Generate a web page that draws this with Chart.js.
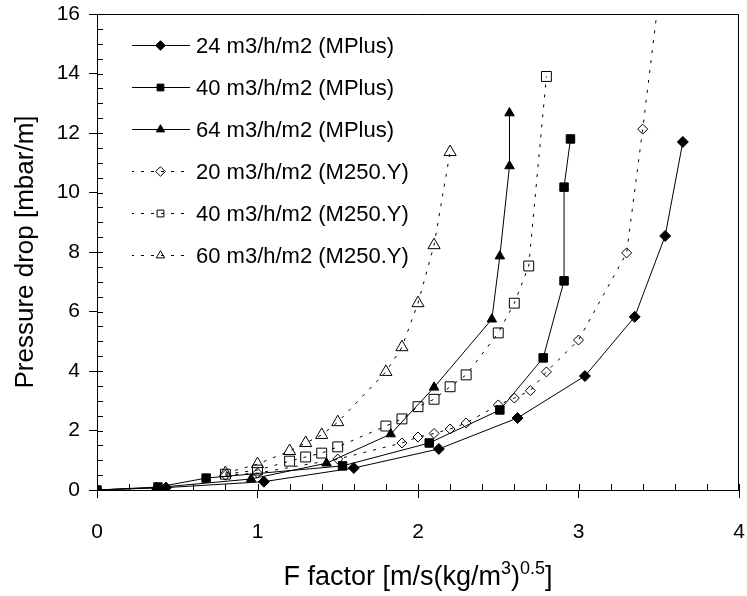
<!DOCTYPE html>
<html>
<head>
<meta charset="utf-8">
<title>Pressure drop vs F factor</title>
<script src="https://cdn.jsdelivr.net/npm/chart.js@4.4.1/dist/chart.umd.min.js"></script>
<style>
  html, body { margin: 0; padding: 0; background: #fff; }
  #wrap { width: 747px; height: 596px; }
</style>
</head>
<body>
<div id="wrap"><canvas id="PressureChart" width="747" height="596"></canvas></div>
<script>
// F factor [m/s(kg/m3)^0.5] and pressure drop [mbar/m]
var mplus24F  = [0, 0.43, 1.04, 1.60, 2.13, 2.62, 3.04, 3.35, 3.54, 3.65];
var mplus24Dp = [0, 0.08, 0.28, 0.74, 1.38, 2.42, 3.83, 5.82, 8.54, 11.7];

var mplus40F  = [0, 0.38, 0.68, 1.53, 2.07, 2.51, 2.78, 2.91, 2.91, 2.95];
var mplus40Dp = [0, 0.10, 0.40, 0.81, 1.58, 2.69, 4.44, 7.03, 10.18, 11.8];

var mplus64F  = [0, 0.37, 0.96, 1.43, 1.83, 2.10, 2.46, 2.51, 2.57, 2.57];
var mplus64Dp = [0, 0.08, 0.37, 0.90, 1.88, 3.45, 5.74, 7.86, 10.89, 12.67];

var m250y20F  = [0.8, 1.0, 1.5, 1.9, 2.0, 2.1, 2.2, 2.3, 2.5, 2.6, 2.7, 2.8, 3.0, 3.3, 3.4, 3.51];
var m250y20Dp = [0.50, 0.57, 1.04, 1.58, 1.78, 1.90, 2.05, 2.25, 2.86, 3.09, 3.34, 3.97, 5.04, 7.97, 12.13, 17.0];

var m250y40F  = [0.8, 1.0, 1.2, 1.3, 1.4, 1.5, 1.8, 1.9, 2.0, 2.1, 2.2, 2.3, 2.5, 2.6, 2.69, 2.8];
var m250y40Dp = [0.53, 0.67, 0.97, 1.11, 1.24, 1.45, 2.15, 2.39, 2.80, 3.05, 3.47, 3.87, 5.28, 6.28, 7.53, 13.9];

var m250y60F  = [0.8, 1.0, 1.2, 1.3, 1.4, 1.5, 1.8, 1.9, 2.0, 2.1, 2.2];
var m250y60Dp = [0.57, 0.87, 1.31, 1.58, 1.85, 2.28, 3.97, 4.80, 6.28, 8.23, 11.36];

var seriesLabels = [
  "24 m3/h/m2 (MPlus)",
  "40 m3/h/m2 (MPlus)",
  "64 m3/h/m2 (MPlus)",
  "20 m3/h/m2 (M250.Y)",
  "40 m3/h/m2 (M250.Y)",
  "60 m3/h/m2 (M250.Y)"
];

var xTicks = [0, 1, 2, 3, 4];
var yTicks = [0, 2, 4, 6, 8, 10, 12, 14, 16];

var FONT = "'Liberation Sans', Arial, sans-serif";

function pairs(xs, ys) {
  var out = [];
  for (var i = 0; i < xs.length; i++) out.push({ x: xs[i], y: ys[i] });
  return out;
}

function makeSet(label, xs, ys, style, radius, filled, dashed) {
  return {
    label: label,
    data: pairs(xs, ys),
    borderColor: "#000",
    borderWidth: 1,
    borderDash: dashed ? [3, 7] : [],
    pointStyle: style,
    pointRadius: radius,
    pointBorderWidth: 1,
    pointBorderColor: "#000",
    pointBackgroundColor: filled ? "#000" : "rgba(0,0,0,0)",
    tension: 0,
    fill: false,
    showLine: true
  };
}

// legend marker drawn by hand, same shapes as chart.js uses
function legendMarker(ctx, style, x, y, r, filled) {
  ctx.beginPath();
  if (style === "rectRot") {
    ctx.moveTo(x, y - r); ctx.lineTo(x + r, y); ctx.lineTo(x, y + r); ctx.lineTo(x - r, y);
  } else if (style === "rect") {
    var s = r * Math.SQRT1_2;
    ctx.rect(x - s, y - s, 2 * s, 2 * s);
  } else {
    var e = r * Math.sqrt(3) / 2;
    ctx.moveTo(x, y - r); ctx.lineTo(x + e, y + r / 2); ctx.lineTo(x - e, y + r / 2);
  }
  ctx.closePath();
  ctx.setLineDash([]);
  if (filled) { ctx.fillStyle = "#000"; ctx.fill(); }
  ctx.stroke();
}

// box frame, inner/minor ticks, legend and the x title with superscripts
var decorations = {
  id: "decorations",
  afterDatasetsDraw: function (chart) {
    var c = chart.ctx;
    var a = chart.chartArea;
    var sx = chart.scales.x, sy = chart.scales.y;

    c.save();
    c.setLineDash([]);
    c.strokeStyle = "#000";
    c.lineWidth = 1;
    c.beginPath();
    c.moveTo(a.left, a.top + 0.5);
    c.lineTo(a.right - 0.5, a.top + 0.5);
    c.lineTo(a.right - 0.5, a.bottom);
    for (var i = 0; i <= 20; i++) {
      var px = Math.round(sx.getPixelForValue(i / 5)) + 0.5;
      c.moveTo(px, a.bottom);
      c.lineTo(px, a.bottom - 6);
    }
    for (var j = 0; j <= 32; j++) {
      var py = Math.round(sy.getPixelForValue(j / 2)) + 0.5;
      c.moveTo(a.left, py);
      c.lineTo(a.left + 6, py);
    }
    c.stroke();

    // legend
    c.font = "22px " + FONT;
    c.textBaseline = "middle";
    chart.data.datasets.forEach(function (ds, k) {
      var y = 45.5 + k * 42;
      c.setLineDash(ds.borderDash);
      c.lineDashOffset = ds.borderDash.length ? 1 : 0;
      c.beginPath();
      c.moveTo(132, y);
      c.lineTo(190, y);
      c.stroke();
      c.lineDashOffset = 0;
      var filled = ds.pointBackgroundColor === "#000";
      legendMarker(c, ds.pointStyle, 160.5, y, 4.8, filled);
      c.fillStyle = "#000";
      c.fillText(ds.label, 196, y + 1);
    });

    // x title: F factor [m/s(kg/m3)0.5]
    var parts = [
      ["F factor [m/s(kg/m", false],
      ["3", true],
      [")", false],
      ["0.5", true],
      ["]", false]
    ];
    var big = "27px " + FONT, small = "18px " + FONT;
    var total = 0;
    parts.forEach(function (p) {
      c.font = p[1] ? small : big;
      total += c.measureText(p[0]).width;
    });
    var x = (a.left + a.right) / 2 - total / 2;
    var base = 585;
    c.fillStyle = "#000";
    c.textBaseline = "alphabetic";
    parts.forEach(function (p) {
      c.font = p[1] ? small : big;
      c.fillText(p[0], x, p[1] ? base - 11 : base);
      x += c.measureText(p[0]).width;
    });
    c.restore();
  }
};

var ctx = document.getElementById("PressureChart").getContext("2d");
var pressureChart = new Chart(ctx, {
  type: "scatter",
  data: {
    datasets: [
      makeSet(seriesLabels[0], mplus24F, mplus24Dp, "rectRot", 5.5, true, false),
      makeSet(seriesLabels[1], mplus40F, mplus40Dp, "rect", 6, true, false),
      makeSet(seriesLabels[2], mplus64F, mplus64Dp, "triangle", 5.5, true, false),
      makeSet(seriesLabels[3], m250y20F, m250y20Dp, "rectRot", 5, false, true),
      makeSet(seriesLabels[4], m250y40F, m250y40Dp, "rect", 7, false, true),
      makeSet(seriesLabels[5], m250y60F, m250y60Dp, "triangle", 7, false, true)
    ]
  },
  options: {
    responsive: false,
    animation: false,
    devicePixelRatio: 1,
    layout: { padding: { top: 14, right: 3, left: 0, bottom: 0 } },
    plugins: {
      legend: { display: false },
      tooltip: { enabled: false }
    },
    scales: {
      x: {
        type: "linear",
        min: 0,
        max: 4,
        afterFit: function (scale) {
          scale.height = 106;
          scale.paddingLeft = 0;
          scale.paddingRight = 0;
        },
        afterBuildTicks: function (scale) {
          scale.ticks = xTicks.map(function (v) { return { value: v }; });
        },
        ticks: {
          color: "#000",
          font: { family: FONT, size: 21 },
          padding: 22,
          maxRotation: 0
        },
        grid: {
          drawOnChartArea: false,
          drawTicks: true,
          tickLength: 8,
          color: "#000"
        },
        border: { display: true, color: "#000", width: 1 },
        title: { display: false }
      },
      y: {
        type: "linear",
        min: 0,
        max: 16,
        afterFit: function (scale) {
          scale.width = 97;
          scale.paddingTop = 0;
          scale.paddingBottom = 0;
        },
        afterBuildTicks: function (scale) {
          scale.ticks = yTicks.map(function (v) { return { value: v }; });
        },
        ticks: {
          color: "#000",
          font: { family: FONT, size: 21 },
          padding: 9
        },
        grid: {
          drawOnChartArea: false,
          drawTicks: true,
          tickLength: 8,
          color: "#000"
        },
        border: { display: true, color: "#000", width: 1 },
        title: {
          display: true,
          text: "Pressure drop [mbar/m]",
          color: "#000",
          font: { family: FONT, size: 26 },
          padding: { top: 10, bottom: 0 }
        }
      }
    }
  },
  plugins: [decorations]
});
</script>
</body>
</html>
